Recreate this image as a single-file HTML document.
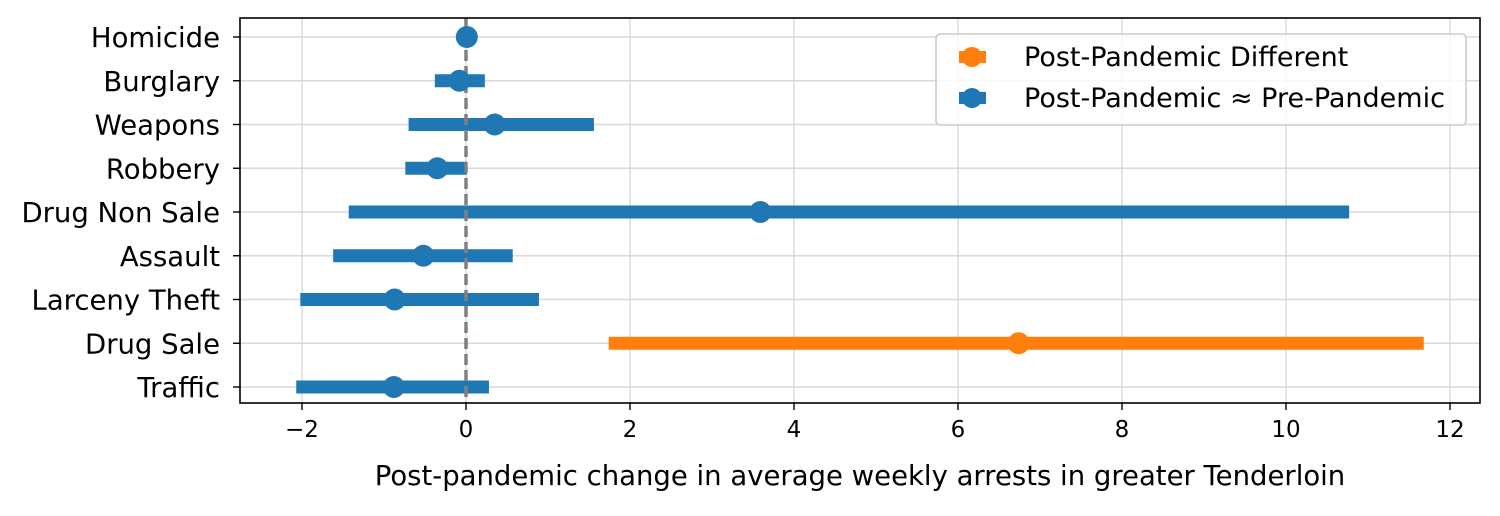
<!DOCTYPE html>
<html><head><meta charset="utf-8"><style>
html,body{margin:0;padding:0;background:#fff;}
svg text{font-family:"DejaVu Sans","Liberation Sans",sans-serif;fill:#000;}
</style></head><body>
<svg id="chart" width="1500" height="511" viewBox="0 0 1500 511" xmlns="http://www.w3.org/2000/svg">
<g id="grid"></g>
<g id="bars"></g>
<line id="zero" stroke="#808080" stroke-width="3.5" stroke-dasharray="11,5"/>
<g id="points"></g>
<rect x="240" y="18" width="1240" height="385" fill="none" stroke="#000" stroke-width="1.6"/>
<g id="axes"></g>
<text x="860" y="485" font-size="27.5" text-anchor="middle">Post-pandemic change in average weekly arrests in greater Tenderloin</text>
<g>
<rect x="936" y="34" width="530" height="91" rx="4" fill="rgba(255,255,255,0.8)" stroke="#ccc" stroke-width="1.6"/>
<g>
<rect x="959" y="51" width="27" height="12" fill="#ff7f0e"/><circle cx="972" cy="57" r="10" fill="#ff7f0e"/>
<text x="1024" y="66" font-size="27">Post-Pandemic Different</text></g>
<g>
<rect x="959" y="92" width="27" height="12" fill="#1f77b4"/><circle cx="972" cy="98" r="10" fill="#1f77b4"/>
<text x="1024" y="107" font-size="27">Post-Pandemic ≈ Pre-Pandemic</text></g>
</g>
</svg>
<script>
const categories=["Homicide","Burglary","Weapons","Robbery","Drug Non Sale","Assault","Larceny Theft","Drug Sale","Traffic"];
const estimates=[0.01,-0.08,0.35,-0.35,3.59,-0.52,-0.87,6.74,-0.88];
const lowers=[0.01,-0.38,-0.70,-0.74,-1.43,-1.62,-2.02,1.74,-2.07];
const uppers=[0.01,0.23,1.56,0.01,10.77,0.57,0.89,11.68,0.28];
const different=[false,false,false,false,false,false,false,true,false];
const xTicks=[-2,0,2,4,6,8,10,12];
const xMin=-2.756,xMax=12.366,L=240,R=1480,T=18,B=403;
const NS="http://www.w3.org/2000/svg";
const x=v=>L+(v-xMin)/(xMax-xMin)*(R-L);
const y=i=>37+i*(387-37)/(categories.length-1);
function mk(tag,attrs,parent,txt){const e=document.createElementNS(NS,tag);for(const k in attrs)e.setAttribute(k,attrs[k]);if(txt!==undefined)e.textContent=txt;document.getElementById(parent).appendChild(e);return e;}
xTicks.forEach(t=>{
 const g=mk('line',{x1:x(t),x2:x(t),y1:T,y2:B,stroke:'#d9d9d9','stroke-width':1.4},'grid');
 
 
 const tk=mk('line',{x1:x(t),x2:x(t),y1:B,y2:B+7,stroke:'#000','stroke-width':1.4},'axes');
 
 
 const lb=mk('text',{x:x(t),y:B+18,'font-size':23,'text-anchor':'middle','dominant-baseline':'hanging'},'axes',(t<0?'\u2212'+(-t):t));
 
 
});
categories.forEach((c,i)=>{
 const g=mk('line',{x1:L,x2:R,y1:y(i),y2:y(i),stroke:'#d9d9d9','stroke-width':1.4},'grid');
 
 
 const tk=mk('line',{x1:L-7,x2:L,y1:y(i),y2:y(i),stroke:'#000','stroke-width':1.4},'axes');
 
 
 const lb=mk('text',{x:L-20,y:y(i)+10,'font-size':27.5,'text-anchor':'end'},'axes',c);
 
 
 const col=different[i]?'#ff7f0e':'#1f77b4';
 const br=mk('line',{x1:x(lowers[i]),x2:x(uppers[i]),y1:y(i),y2:y(i),stroke:col,'stroke-width':13},'bars');
 
 
 const pt=mk('circle',{cx:x(estimates[i]),cy:y(i),r:11,fill:col},'points');
 
 
});
const z=document.getElementById('zero');
z.setAttribute('x1',x(0));z.setAttribute('x2',x(0));z.setAttribute('y1',T);z.setAttribute('y2',B);
</script>
</body></html>
